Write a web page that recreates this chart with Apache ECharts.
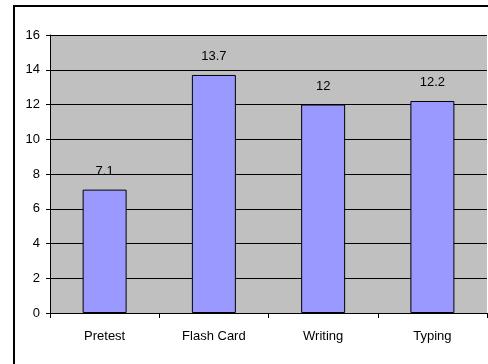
<!DOCTYPE html>
<html>
<head>
<meta charset="utf-8">
<script src="https://cdn.jsdelivr.net/npm/echarts@6/dist/echarts.min.js"></script>
<style>
html,body{margin:0;padding:0;background:#fff;}
#c{width:488px;height:364px;}
</style>
</head>
<body>
<div id="c"></div>
<script>
var categories = ['Pretest', 'Flash Card', 'Writing', 'Typing'];
var scores = [7.1, 13.7, 12, 12.2];
var yTicks = [0, 2, 4, 6, 8, 10, 12, 14, 16];

var chart = echarts.init(document.getElementById('c'), null, {renderer: 'canvas'});
var font = 'Liberation Sans, Arial, sans-serif';
chart.setOption({
  animation: false,
  backgroundColor: '#ffffff',
  grid: {left: 50, top: 35, right: 1, bottom: 51, show: true, backgroundColor: '#c0c0c0', borderWidth: 0},
  graphic: [{
    type: 'rect', silent: true, z: 100,
    shape: {x: 14, y: 6, width: 490, height: 380},
    style: {fill: 'none', stroke: '#000', lineWidth: 2}
  }],
  xAxis: {
    type: 'category',
    data: categories,
    axisLine: {lineStyle: {color: '#000', width: 1}},
    axisTick: {show: true, length: 5, lineStyle: {color: '#000'}},
    axisLabel: {color: '#000', fontFamily: font, fontSize: 13, margin: 17}
  },
  yAxis: {
    type: 'value',
    min: yTicks[0],
    max: yTicks[yTicks.length - 1],
    interval: 2,
    axisLine: {show: true, lineStyle: {color: '#000', width: 1}},
    axisTick: {show: true, length: 4, lineStyle: {color: '#000'}},
    axisLabel: {color: '#000', fontFamily: font, fontSize: 13, margin: 10},
    splitLine: {show: true, lineStyle: {color: '#000', width: 1}}
  },
  series: [{
    type: 'bar',
    data: scores,
    barWidth: 44,
    itemStyle: {color: '#9999ff', borderColor: '#000', borderWidth: 1},
    label: {show: true, position: 'top', distance: 12, color: '#000', fontFamily: font, fontSize: 13}
  }]
});
</script>
</body>
</html>
